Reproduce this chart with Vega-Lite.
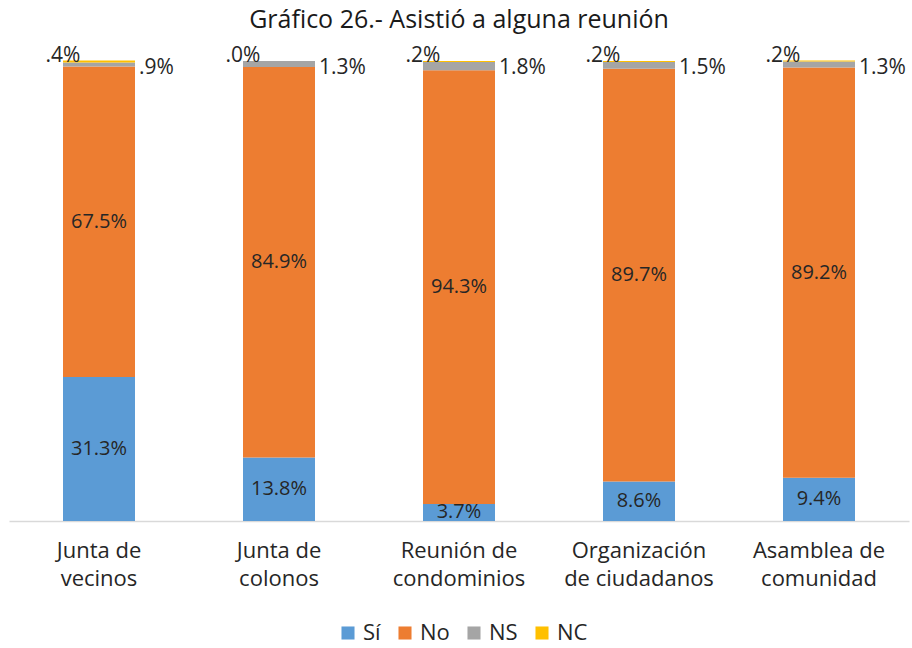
{
  "$schema": "https://vega.github.io/schema/vega-lite/v6.json",
  "width": 900,
  "height": 460,
  "autosize": {"type": "none"},
  "padding": {"left": 9, "top": 61, "right": 3, "bottom": 127},
  "background": "white",
  "title": {
    "text": "Gráfico 26.- Asistió a alguna reunión",
    "font": "Open Sans",
    "fontSize": 25,
    "fontWeight": "normal",
    "color": "#1a1a1a",
    "anchor": "middle",
    "offset": 12
  },
  "config": {
    "view": {"stroke": null},
    "font": "Open Sans"
  },
  "data": {
    "values": [
      {"categoria": "Junta de vecinos", "respuesta": "Sí", "orden": 1, "valor": 31.3, "etiqueta": "31.3%"},
      {"categoria": "Junta de vecinos", "respuesta": "No", "orden": 2, "valor": 67.5, "etiqueta": "67.5%"},
      {"categoria": "Junta de vecinos", "respuesta": "NS", "orden": 3, "valor": 0.9, "etiqueta": ".9%"},
      {"categoria": "Junta de vecinos", "respuesta": "NC", "orden": 4, "valor": 0.4, "etiqueta": ".4%"},
      {"categoria": "Junta de colonos", "respuesta": "Sí", "orden": 1, "valor": 13.8, "etiqueta": "13.8%"},
      {"categoria": "Junta de colonos", "respuesta": "No", "orden": 2, "valor": 84.9, "etiqueta": "84.9%"},
      {"categoria": "Junta de colonos", "respuesta": "NS", "orden": 3, "valor": 1.3, "etiqueta": "1.3%"},
      {"categoria": "Junta de colonos", "respuesta": "NC", "orden": 4, "valor": 0.0, "etiqueta": ".0%"},
      {"categoria": "Reunión de condominios", "respuesta": "Sí", "orden": 1, "valor": 3.7, "etiqueta": "3.7%"},
      {"categoria": "Reunión de condominios", "respuesta": "No", "orden": 2, "valor": 94.3, "etiqueta": "94.3%"},
      {"categoria": "Reunión de condominios", "respuesta": "NS", "orden": 3, "valor": 1.8, "etiqueta": "1.8%"},
      {"categoria": "Reunión de condominios", "respuesta": "NC", "orden": 4, "valor": 0.2, "etiqueta": ".2%"},
      {"categoria": "Organización de ciudadanos", "respuesta": "Sí", "orden": 1, "valor": 8.6, "etiqueta": "8.6%"},
      {"categoria": "Organización de ciudadanos", "respuesta": "No", "orden": 2, "valor": 89.7, "etiqueta": "89.7%"},
      {"categoria": "Organización de ciudadanos", "respuesta": "NS", "orden": 3, "valor": 1.5, "etiqueta": "1.5%"},
      {"categoria": "Organización de ciudadanos", "respuesta": "NC", "orden": 4, "valor": 0.2, "etiqueta": ".2%"},
      {"categoria": "Asamblea de comunidad", "respuesta": "Sí", "orden": 1, "valor": 9.4, "etiqueta": "9.4%"},
      {"categoria": "Asamblea de comunidad", "respuesta": "No", "orden": 2, "valor": 89.2, "etiqueta": "89.2%"},
      {"categoria": "Asamblea de comunidad", "respuesta": "NS", "orden": 3, "valor": 1.3, "etiqueta": "1.3%"},
      {"categoria": "Asamblea de comunidad", "respuesta": "NC", "orden": 4, "valor": 0.2, "etiqueta": ".2%"}
    ]
  },
  "encoding": {
    "x": {
      "field": "categoria",
      "type": "nominal",
      "sort": null,
      "scale": {"paddingInner": 0.6, "paddingOuter": 0.3},
      "axis": {
        "title": null,
        "labelAngle": 0,
        "ticks": false,
        "domainColor": "#D9D9D9",
        "domainWidth": 1.5,
        "labelFont": "Open Sans",
        "labelFontSize": 22,
        "labelColor": "#262626",
        "labelPadding": 19,
        "labelLineHeight": 28,
        "labelBaseline": "top",
        "labelExpr": "datum.label == 'Organización de ciudadanos' ? ['Organización', 'de ciudadanos'] : [slice(datum.label, 0, lastindexof(datum.label, ' ')), slice(datum.label, lastindexof(datum.label, ' ') + 1)]"
      }
    }
  },
  "layer": [
    {
      "mark": {"type": "bar"},
      "encoding": {
        "y": {
          "field": "valor",
          "type": "quantitative",
          "aggregate": "sum",
          "stack": "zero",
          "scale": {"domain": [0, 100], "nice": false},
          "axis": null
        },
        "color": {
          "field": "respuesta",
          "type": "nominal",
          "scale": {
            "domain": ["Sí", "No", "NS", "NC"],
            "range": ["#5B9BD5", "#ED7D31", "#A5A5A5", "#FFC000"]
          },
          "legend": {
            "title": null,
            "orient": "none",
            "legendX": 328,
            "legendY": 561,
            "direction": "horizontal",
            "symbolType": "square",
            "symbolSize": 170,
            "symbolStrokeWidth": 0,
            "labelFont": "Open Sans",
            "labelFontSize": 22,
            "labelColor": "#262626",
            "labelOffset": 4,
            "columnPadding": 13
          }
        },
        "order": {"field": "orden", "type": "quantitative"}
      }
    },
    {
      "transform": [{"filter": "datum.respuesta == 'Sí' || datum.respuesta == 'No'"}],
      "mark": {"type": "text", "fontSize": 20, "color": "#262626", "baseline": "middle", "font": "Open Sans"},
      "encoding": {
        "y": {
          "field": "valor",
          "type": "quantitative",
          "aggregate": "sum",
          "stack": "zero",
          "bandPosition": 0.5
        },
        "text": {"field": "etiqueta"},
        "detail": {"field": "respuesta"},
        "order": {"field": "orden", "type": "quantitative"}
      }
    },
    {
      "transform": [{"filter": "datum.respuesta == 'NS'"}],
      "mark": {"type": "text", "fontSize": 21, "color": "#262626", "baseline": "middle", "align": "left", "dx": 4, "dy": 7, "font": "Open Sans"},
      "encoding": {
        "x": {"field": "categoria", "type": "nominal", "sort": null, "bandPosition": 1},
        "y": {"datum": 100},
        "text": {"field": "etiqueta"}
      }
    },
    {
      "transform": [{"filter": "datum.respuesta == 'NC'"}],
      "mark": {"type": "text", "fontSize": 21, "color": "#262626", "baseline": "alphabetic", "align": "center", "dx": 0, "dy": 1, "font": "Open Sans"},
      "encoding": {
        "x": {"field": "categoria", "type": "nominal", "sort": null, "bandPosition": 0},
        "y": {"datum": 100},
        "text": {"field": "etiqueta"}
      }
    }
  ]
}
